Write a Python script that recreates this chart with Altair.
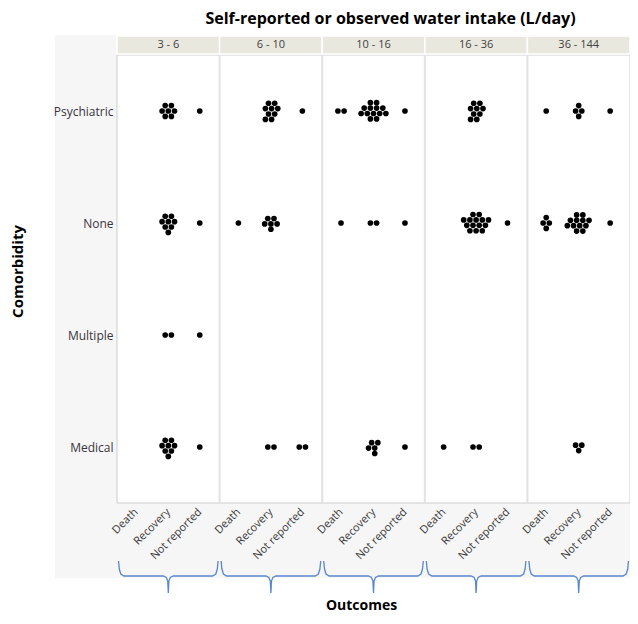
import altair as alt
import pandas as pd

# ---------------- data ----------------
ranges = ["3 - 6", "6 - 10", "10 - 16", "16 - 36", "36 - 144"]
outcomes = ["Death", "Recovery", "Not reported"]
comorbidities = ["Psychiatric", "None", "Multiple", "Medical"]

# counts per intake range: [Death, Recovery, Not reported]
counts_psychiatric = [[0, 7, 1], [0, 9, 1], [2, 13, 1], [0, 9, 0], [1, 4, 1]]
counts_none = [[0, 8, 1], [1, 6, 0], [1, 2, 1], [0, 14, 1], [4, 12, 1]]
counts_multiple = [[0, 2, 1], [0, 0, 0], [0, 0, 0], [0, 0, 0], [0, 0, 0]]
counts_medical = [[0, 8, 1], [0, 2, 2], [0, 5, 1], [1, 2, 0], [0, 3, 0]]
counts = {
    "Psychiatric": counts_psychiatric,
    "None": counts_none,
    "Multiple": counts_multiple,
    "Medical": counts_medical,
}

# ---------------- layout ----------------
W, H = 513, 448
NX = 3 * len(ranges)
NY = len(comorbidities)
PX_X = W / NX
PX_Y = H / NY
outcome_pos = [0.55, 1.5, 2.42]
DOT_D = 6.2

# row widths used to pack a cluster of n dots (top to bottom)
ROW_PATTERNS = {
    1: [1], 2: [2], 3: [2, 1], 4: [1, 2, 1], 5: [2, 2, 1], 6: [2, 3, 1],
    7: [2, 3, 2], 8: [2, 3, 2, 1], 9: [2, 3, 2, 2], 10: [2, 3, 3, 2],
    11: [2, 4, 3, 2], 12: [2, 4, 4, 2], 13: [2, 4, 5, 2], 14: [2, 5, 4, 3],
}


def pack(n, d=DOT_D):
    """Beeswarm-like packing of n dots (pixel offsets, centred)."""
    if n == 0:
        return []
    widths = ROW_PATTERNS[n]
    pts = []
    prev_w, shift = None, 0.0
    for r, w in enumerate(widths):
        if w == prev_w:
            shift = -d / 2 if shift == 0 else 0.0
        else:
            shift = 0.0
        for i in range(w):
            pts.append(((i - (w - 1) / 2) * d + shift, r * d * 0.87))
        prev_w = w
    cx = sum(p[0] for p in pts) / n
    cy = sum(p[1] for p in pts) / n
    return [(p[0] - cx, p[1] - cy) for p in pts]


rows = []
for ci, comorb in enumerate(comorbidities):
    y_base = NY - ci - 0.5
    for ri, rng in enumerate(ranges):
        for oi, outc in enumerate(outcomes):
            n = counts[comorb][ri][oi]
            for dx, dy in pack(n):
                rows.append({
                    "x": 3 * ri + outcome_pos[oi] + dx / PX_X,
                    "y": y_base - dy / PX_Y,
                    "Comorbidity": comorb,
                    "Intake": rng,
                    "Outcome": outc,
                })
dots = pd.DataFrame(rows)

headers = pd.DataFrame({
    "x": [3 * i for i in range(len(ranges))],
    "x2": [3 * i + 3 for i in range(len(ranges))],
    "xm": [3 * i + 1.5 for i in range(len(ranges))],
    "label": ranges,
})

dividers = pd.DataFrame({"x": [3 * i for i in range(1, len(ranges))]})

# brace outline (pixel offsets within a panel, below plot bottom)
pw = 3 * PX_X
mid = pw / 2
brace_shape = [
    (1.5, 58), (2.3, 66), (3.8, 71), (7, 73), (mid - 5, 73), (mid - 2, 74.5),
    (mid - 0.6, 78), (mid, 90), (mid + 0.6, 78), (mid + 2, 74.5), (mid + 5, 73),
    (pw - 7, 73), (pw - 3.8, 71), (pw - 2.3, 66), (pw - 1.5, 58),
]
brows = []
for ri in range(len(ranges)):
    for k, (bx, by) in enumerate(brace_shape):
        brows.append({"x": 3 * ri + bx / PX_X, "y": -by / PX_Y, "panel": ri, "k": k})
braces = pd.DataFrame(brows)

one = pd.DataFrame({"a": [0]})

FONT = "Open Sans"
xscale = alt.Scale(domain=[0, NX], nice=False, zero=False)
yscale = alt.Scale(domain=[0, NY], nice=False, zero=False)

x_label_expr = "[" + ",".join(f"'{o}'" for o in outcomes) + "][floor(datum.value) % 3]"
x_values = [3 * r + p for r in range(len(ranges)) for p in outcome_pos]
y_values = [NY - ci - 0.5 for ci in range(NY)]
y_label_expr = " : ".join(
    f"abs(datum.value - {v}) < 0.01 ? '{c}'" for v, c in zip(y_values, comorbidities)
) + " : ''"

xaxis = alt.Axis(
    values=x_values, labelExpr=x_label_expr, labelAngle=-45, labelAlign="right",
    labelBaseline="middle", labelPadding=7, labelOverlap=False, labelFont=FONT,
    labelFontSize=11, labelColor="#383838", ticks=False, domain=False, grid=False,
    title="Outcomes", titleFont=FONT, titleFontSize=14, titleFontWeight="bold",
    titleColor="black", titleX=244, titleY=102, titleBaseline="middle",
    titleAlign="center", labelBound=False, labelFlush=False, zindex=1,
)
yaxis = alt.Axis(
    values=y_values, labelExpr=y_label_expr, labelPadding=4, labelFont=FONT,
    labelFontSize=12, labelColor="#3a3440", ticks=False, domain=False, grid=False,
    title="Comorbidity", titleFont=FONT, titleFontSize=15, titleFontWeight="bold",
    titleColor="black", titleX=-100, titleY=216, titleAngle=-90,
    titleAlign="center", titleBaseline="middle", labelOverlap=False, zindex=1,
)

bg = alt.Chart(one).mark_rect(fill="#f6f6f6").encode(
    x=alt.value(-62), x2=alt.value(W), y=alt.value(-20), y2=alt.value(H + 75)
)
plot_bg = alt.Chart(one).mark_rect(fill="white", stroke="#cdcdcd", strokeWidth=1).encode(
    x=alt.value(0), x2=alt.value(W), y=alt.value(0), y2=alt.value(H)
)
rules = alt.Chart(dividers).mark_rule(color="#e2e2e2", strokeWidth=2).encode(
    x=alt.X("x:Q", scale=xscale, axis=xaxis), y=alt.value(0), y2=alt.value(H)
)
head_rect = alt.Chart(headers).mark_rect(fill="#e9e8df", stroke="white", strokeWidth=1.5).encode(
    x=alt.X("x:Q", scale=xscale, axis=xaxis), x2="x2:Q", y=alt.value(-19), y2=alt.value(-1)
)
head_text = alt.Chart(headers).mark_text(
    font=FONT, fontSize=11, color="#404040", baseline="middle", align="center"
).encode(
    x=alt.X("xm:Q", scale=xscale, axis=xaxis), y=alt.value(-10), text="label:N"
)
title_text = alt.Chart(one).mark_text(
    text="Self-reported or observed water intake (L/day)", font=FONT, fontSize=16,
    fontWeight="bold", color="black", align="center", baseline="alphabetic",
).encode(x=alt.value(W / 2 + 17), y=alt.value(-31))
brace_lines = alt.Chart(braces).mark_line(color="#5a87cf", strokeWidth=1.3, clip=False).encode(
    x=alt.X("x:Q", scale=xscale, axis=xaxis),
    y=alt.Y("y:Q", scale=yscale, axis=yaxis),
    detail="panel:N",
    order="k:Q",
)
points = alt.Chart(dots).mark_circle(size=32, color="black", opacity=1).encode(
    x=alt.X("x:Q", scale=xscale, axis=xaxis),
    y=alt.Y("y:Q", scale=yscale, axis=yaxis),
    tooltip=["Comorbidity", "Intake", "Outcome"],
)

chart = alt.layer(
    bg, plot_bg, rules, head_rect, head_text, title_text, brace_lines, points
).properties(
    width=W,
    height=H,
    autosize=alt.AutoSizeParams(type="none"),
    padding={"left": 109, "top": 47, "right": 0, "bottom": 113},
).configure_view(stroke=None).configure(background="white")

chart.save("out.html", embed_options={"renderer": "svg", "actions": False})
